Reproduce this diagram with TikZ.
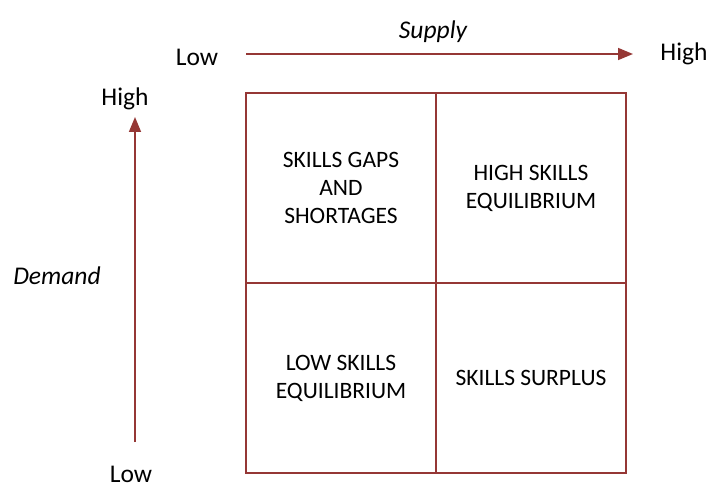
\documentclass[tikz,border=0pt]{standalone}
\usepackage{fontspec}
\setmainfont{Carlito}
\usepackage{tikz}
\usetikzlibrary{positioning}
\usetikzlibrary{arrows.meta}
\definecolor{axisred}{HTML}{953735}

\begin{document}
\begin{tikzpicture}[x=1pt, y=-1pt, node distance={0pt},
    cell/.style = {draw=axisred, line width=2.2pt, outer sep=0pt, minimum width=190pt, minimum height=190pt, align=center, font=\fontsize{23.5}{28}\selectfont},
    lab/.style = {inner sep=0pt, anchor=base, font=\fontsize{25.5}{30}\selectfont},
    axis/.style = {draw=axisred, line width=1.6pt, -{Triangle[length=15pt,width=12pt]}}]
            \useasboundingbox (0,0) rectangle (709,489);
            % Nodes
            \node[cell] (gaps) at (341,188) {SKILLS GAPS\\AND\\SHORTAGES};
            \node[cell] (high) [right=of gaps] {HIGH SKILLS\\EQUILIBRIUM};
            \node[cell] (low) [below=of gaps] {LOW SKILLS\\EQUILIBRIUM};
            \node[cell] (surplus) [right=of low] {SKILLS SURPLUS};
            \node[lab] (slow) at (197,66) {Low};
            \node[lab] (shigh) at (684,61) {High};
            \node[lab] (supply) at (433,39) {\itshape Supply};
            \node[lab] (dhigh) at (125,106) {High};
            \node[lab] (demand) at (57,284) {\itshape Demand};
            \node[lab] (dlow) at (131,482) {Low};
            \coordinate (s0) at (246,54);
            \coordinate (s1) at (633,54);
            \coordinate (d0) at (135,442);
            \coordinate (d1) at (135,117);
            % Edges
            \draw[axis] (s0) -- (s1);
            \draw[axis] (d0) -- (d1);
            \end{tikzpicture}
\end{document}
